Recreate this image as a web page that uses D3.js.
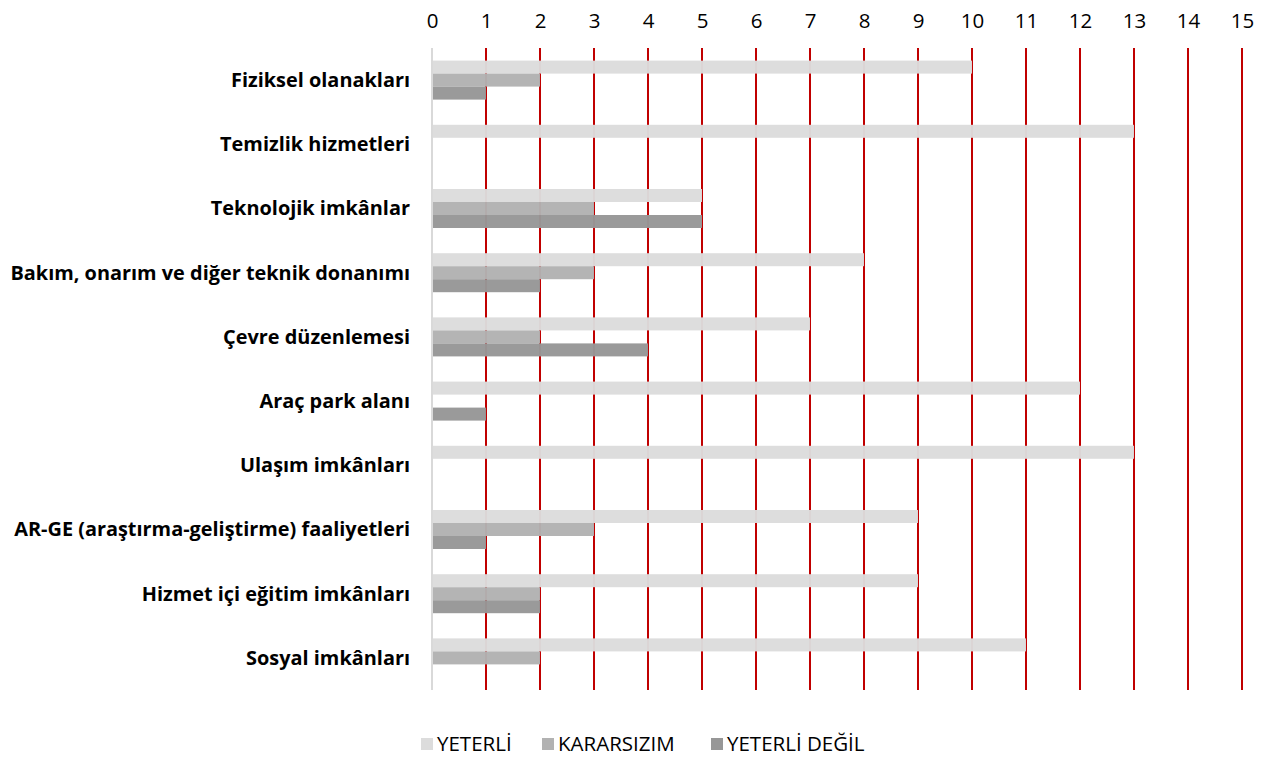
<!DOCTYPE html>
<html>
<head>
<meta charset="utf-8">
<script src="https://cdn.jsdelivr.net/npm/d3@7"></script>
<style>
  body { margin: 0; background: #fff; }
  text { font-family: "Open Sans", sans-serif; fill: #000; }
</style>
</head>
<body>
<div id="chart"></div>
<script>
// categories and values
var categories = [
  "Fiziksel olanakları",
  "Temizlik hizmetleri",
  "Teknolojik imkânlar",
  "Bakım, onarım ve diğer teknik donanımı",
  "Çevre düzenlemesi",
  "Araç park alanı",
  "Ulaşım imkânları",
  "AR-GE (araştırma-geliştirme) faaliyetleri",
  "Hizmet içi eğitim imkânları",
  "Sosyal imkânları"
];
var seriesNames = ["YETERLİ", "KARARSIZIM", "YETERLİ DEĞİL"];
var yeterli     = [10, 13, 5, 8, 7, 12, 13, 9, 9, 11];
var kararsizim  = [2, 0, 3, 3, 2, 0, 0, 3, 2, 2];
var yeterliDegil = [1, 0, 5, 2, 4, 1, 0, 1, 2, 0];
var xTicks = d3.range(0, 16);

var colors = ["#dcdcdc", "#b2b2b2", "#979797"];
var values = [yeterli, kararsizim, yeterliDegil];

var width = 1274, height = 761;
var margin = {top: 48, right: 32, bottom: 71, left: 432};
var innerW = width - margin.left - margin.right,
    innerH = height - margin.top - margin.bottom;

var svg = d3.select("#chart").append("svg")
    .attr("width", width)
    .attr("height", height);

var g = svg.append("g")
    .attr("transform", "translate(" + margin.left + "," + margin.top + ")");

var x = d3.scaleLinear().domain([0, 15]).range([0, 810]);
var y = d3.scaleBand().domain(categories).range([0, innerH]);
var ySub = d3.scaleBand().domain(seriesNames).range([0, 39]);

// red gridlines
g.selectAll(".grid").data(xTicks.filter(function(d) { return d > 0; }))
  .enter().append("line")
    .attr("class", "grid")
    .attr("x1", function(d) { return x(d); })
    .attr("x2", function(d) { return x(d); })
    .attr("y1", 0).attr("y2", innerH)
    .attr("stroke", "#c00000")
    .attr("stroke-width", 2);

// value axis on top
var xAxis = g.append("g")
    .attr("transform", "translate(0,-8)")
    .call(d3.axisTop(x).tickValues(xTicks).tickSize(0).tickPadding(12));
xAxis.select(".domain").remove();
xAxis.selectAll("text")
    .style("font-size", "20.5px")
    .style("font-family", "'Open Sans', sans-serif");

// bars
var groups = g.selectAll(".cat").data(categories)
  .enter().append("g")
    .attr("class", "cat")
    .attr("transform", function(d) { return "translate(0," + (y(d) + (y.bandwidth() - 39) / 2) + ")"; });

groups.selectAll("rect")
  .data(function(d, i) {
    return seriesNames.map(function(s, j) { return {s: s, v: values[j][i], c: colors[j]}; });
  })
  .enter().append("rect")
    .attr("x", 0)
    .attr("y", function(d) { return ySub(d.s); })
    .attr("width", function(d) { return x(d.v); })
    .attr("height", ySub.bandwidth())
    .attr("fill", function(d) { return d.c; })
    .attr("fill-opacity", 0.97);

// zero axis line
g.append("line")
    .attr("x1", 0).attr("x2", 0)
    .attr("y1", 0).attr("y2", innerH)
    .attr("stroke", "#d9d9d9")
    .attr("stroke-width", 2);

// category labels
g.selectAll(".lab").data(categories)
  .enter().append("text")
    .attr("class", "lab")
    .attr("x", -22)
    .attr("y", function(d) { return y(d) + y.bandwidth() / 2; })
    .attr("dy", "0.35em")
    .attr("text-anchor", "end")
    .style("font-size", "19.9px")
    .style("font-weight", "bold")
    .text(function(d) { return d; });

// legend
var legendX = [421, 542, 711];
var legend = svg.selectAll(".leg").data(seriesNames)
  .enter().append("g")
    .attr("class", "leg")
    .attr("transform", function(d, i) { return "translate(" + legendX[i] + ",738)"; });
legend.append("rect")
    .attr("width", 12).attr("height", 12)
    .attr("fill", function(d, i) { return colors[i]; });
legend.append("text")
    .attr("x", 16).attr("y", 6)
    .attr("dy", "0.35em")
    .style("font-size", "20.5px")
    .text(function(d) { return d; });
</script>
</body>
</html>
